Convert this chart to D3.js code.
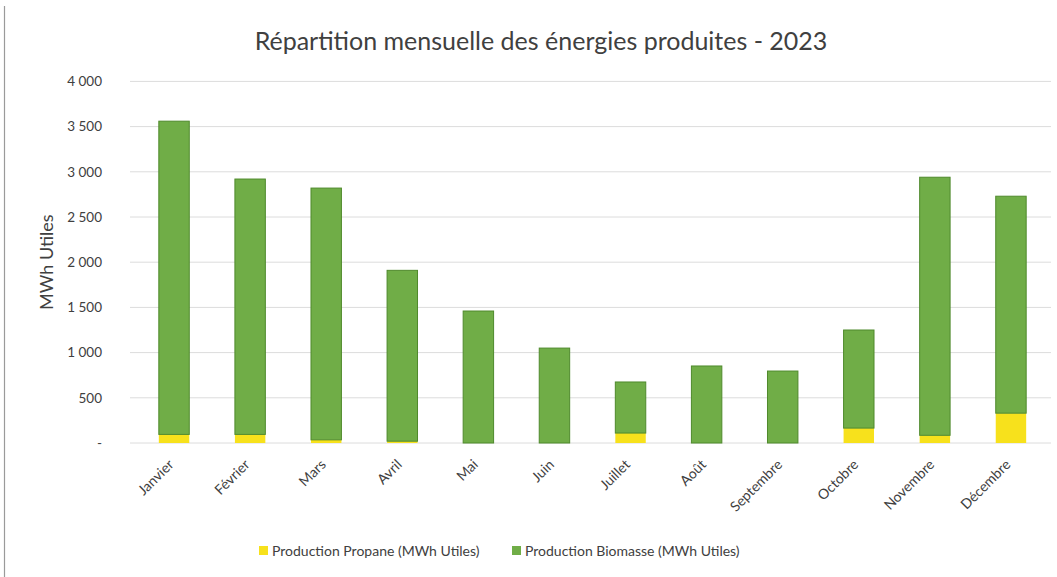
<!DOCTYPE html>
<html lang="fr">
<head>
<meta charset="utf-8">
<script src="https://cdn.jsdelivr.net/npm/d3@7"></script>
<style>
  html, body { margin: 0; padding: 0; background: #fff; }
  svg { display: block; font-family: Lato, "Open Sans", sans-serif; }
</style>
</head>
<body>
<svg id="chart" width="1057" height="577"></svg>
<script>
// Mois de l'année 2023
const months = ["Janvier", "Février", "Mars", "Avril", "Mai", "Juin",
                "Juillet", "Août", "Septembre", "Octobre", "Novembre", "Décembre"];
// Production Propane (MWh Utiles)
const propane = [95, 95, 35, 20, 0, 0, 110, 0, 0, 165, 85, 330];
// Production Biomasse (MWh Utiles)
const biomasse = [3465, 2825, 2785, 1890, 1460, 1050, 565, 852, 796, 1085, 2855, 2400];
// Graduations de l'axe vertical
const yTicks = [0, 500, 1000, 1500, 2000, 2500, 3000, 3500, 4000];
const seriesNames = ["Production Propane (MWh Utiles)", "Production Biomasse (MWh Utiles)"];

const colors = { propane: "#f7e11c", biomasse: "#70ad47" };

const svg = d3.select("#chart");
const W = 1057, H = 577;
const margin = { left: 136, right: 8, top: 81.4, bottom: 134 };
const plotW = W - margin.left - margin.right;
const plotH = H - margin.top - margin.bottom;

// Cadre gauche du graphique
svg.append("line")
  .attr("x1", 4.5).attr("x2", 4.5).attr("y1", 6).attr("y2", H)
  .attr("stroke", "#9a9a9a").attr("stroke-width", 1.2);

const rows = months.map((m, i) => ({ month: m, propane: propane[i], biomasse: biomasse[i] }));
const stacked = d3.stack().keys(["propane", "biomasse"])(rows);

const x = d3.scaleBand().domain(months).range([margin.left, margin.left + plotW]).paddingInner(0.6).paddingOuter(0.3);
const y = d3.scaleLinear().domain([0, 4000]).range([margin.top + plotH, margin.top]);

const g = svg.append("g");

// Quadrillage horizontal
g.append("g")
  .selectAll("line")
  .data(yTicks)
  .join("line")
  .attr("x1", margin.left - 6).attr("x2", W - 6)
  .attr("y1", d => y(d)).attr("y2", d => y(d))
  .attr("stroke", "#dcdcdc").attr("stroke-width", 1);

// Axe vertical (libellés seulement)
const fmt = v => v === 0 ? "-" : d3.format(",")(v).replace(/,/g, "\u202f");
const yAxis = d3.axisLeft(y).tickValues(yTicks).tickFormat(fmt).tickSize(0).tickPadding(0);
g.append("g")
  .attr("transform", `translate(${margin.left - 34},0)`)
  .call(yAxis)
  .call(s => s.select(".domain").remove())
  .call(s => s.selectAll("text").attr("font-size", 13.5).attr("fill", "#404040")
    .attr("font-family", "Lato, 'Open Sans', sans-serif"));

// Barres empilées
g.append("g")
  .selectAll("g")
  .data(stacked)
  .join("g")
  .attr("fill", d => colors[d.key])
  .attr("stroke", d => d.key === "biomasse" ? "#4f8a2c" : "none")
  .attr("stroke-width", 1)
  .selectAll("rect")
  .data(d => d)
  .join("rect")
  .attr("x", d => x(d.data.month))
  .attr("width", x.bandwidth())
  .attr("y", d => y(d[1]))
  .attr("height", d => Math.max(0, y(d[0]) - y(d[1])));

// Axe horizontal (libellés inclinés)
const xAxis = d3.axisBottom(x).tickSize(0).tickPadding(0);
const xg = g.append("g")
  .attr("transform", `translate(0,${y(0)})`)
  .call(xAxis)
  .call(s => s.select(".domain").remove());
xg.selectAll("text")
  .attr("font-size", 14)
  .attr("fill", "#404040")
  .attr("font-family", "Lato, 'Open Sans', sans-serif")
  .attr("text-anchor", "end")
  .attr("dy", "0.35em")
  .attr("transform", "translate(-3,19) rotate(-45)");

// Titre
svg.append("text")
  .attr("x", 541).attr("y", 50)
  .attr("text-anchor", "middle")
  .attr("font-size", 25)
  .attr("fill", "#404040")
  .text("Répartition mensuelle des énergies produites - 2023");

// Titre de l'axe vertical
svg.append("text")
  .attr("transform", `translate(53,${y(2000)}) rotate(-90)`)
  .attr("text-anchor", "middle")
  .attr("font-size", 18)
  .attr("fill", "#404040")
  .text("MWh Utiles");

// Légende
const legendX = [259, 512];
const legend = svg.append("g")
  .selectAll("g")
  .data(seriesNames)
  .join("g")
  .attr("transform", (d, i) => `translate(${legendX[i]},551)`);
legend.append("rect")
  .attr("x", 0).attr("y", -5).attr("width", 9).attr("height", 9)
  .attr("fill", (d, i) => i === 0 ? colors.propane : colors.biomasse);
legend.append("text")
  .attr("x", 13).attr("y", 0).attr("dy", "0.35em")
  .attr("font-size", 14)
  .attr("fill", "#404040")
  .text(d => d);
</script>
</body>
</html>
